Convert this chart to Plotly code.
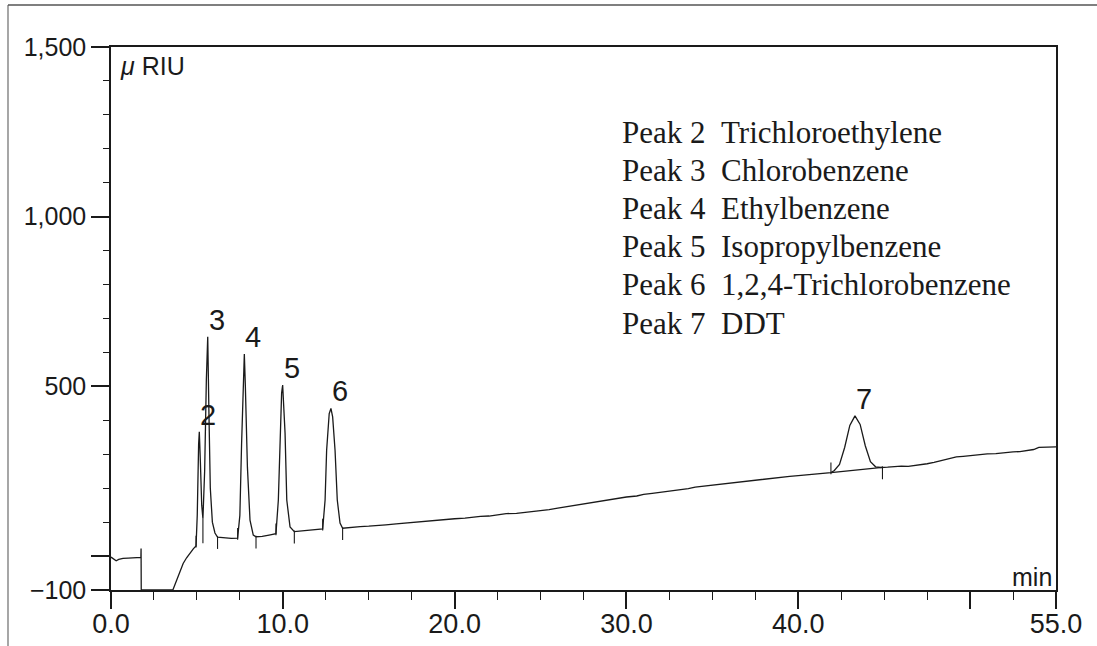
import numpy as np
import plotly.graph_objects as go

# ---------------- data ----------------
time_min = [
    0.0, 0.15, 0.3, 0.45, 0.7, 1.0, 1.3, 1.6, 1.74, 1.75, 1.76, 3.6, 3.8, 4.0, 4.2, 4.4, 4.6, 4.8, 4.95,
    5.02, 5.1, 5.14, 5.2, 5.28, 5.35, 5.45, 5.55, 5.63, 5.7, 5.78, 5.9, 6.05, 6.2,
    6.6, 7.0, 7.37,
    7.5, 7.6, 7.7, 7.76, 7.82, 7.94, 8.09, 8.28, 8.44,
    8.8, 9.2, 9.6,
    9.74, 9.84, 9.93, 9.99, 10.06, 10.13, 10.23, 10.42, 10.67,
    11.0, 11.5, 12.0, 12.32,
    12.46, 12.55, 12.7, 12.8, 12.9, 13.04, 13.17, 13.33, 13.48,
    14.0, 14.5, 15.0, 15.5, 16.0, 16.6, 17.0, 17.5, 18.0, 18.6, 19.0, 19.5, 20.0, 20.6, 21.0, 21.5,
    22.0, 22.5, 23.0, 23.6, 24.0, 24.5, 25.0, 25.5, 26.0, 26.6, 27.0, 27.5,
    28.0, 28.5, 29.0, 29.5, 30.0, 30.6, 31.0, 31.5, 32.0, 32.5, 33.0, 33.6, 34.0, 34.5, 35.0, 35.5,
    36.0, 36.6, 37.0, 37.5, 38.0, 38.5, 39.0, 39.5, 40.0, 40.5, 41.0, 41.5, 41.9,
    42.1, 42.4, 42.7, 43.0, 43.3, 43.6, 43.9, 44.2, 44.5, 44.8,
    45.2, 45.5, 46.0, 46.4, 46.7, 47.1, 47.5, 47.9, 48.2, 48.7, 49.2, 49.6, 50.0, 50.3, 50.6,
    51.0, 51.5, 52.0, 52.5, 52.9, 53.2, 53.7, 54.0, 54.5, 55.0,
]
signal_uRIU = [
    -3, -8, -14, -10, -7, -6, -5, -4, -4, 22, -100, -100, -72, -45, -22, -5, 10, 22, 30,
    120, 330, 366, 280, 150, 110, 250, 520, 646, 420, 200, 100, 68, 56,
    53, 52, 53,
    120, 330, 540, 595, 500, 262, 106, 62, 57,
    58, 62, 66,
    165, 363, 480, 504, 450, 363, 165, 86, 72,
    74, 76, 79, 80,
    165, 312, 420, 435, 410, 312, 165, 97, 82,
    85, 87, 88, 91, 92, 95, 97, 98, 101, 104, 106, 108, 110, 112, 115, 117,
    118, 122, 125, 126, 128, 132, 134, 137, 141, 146, 149, 153,
    158, 162, 166, 169, 174, 177, 182, 185, 188, 192, 195, 199, 203, 206, 209, 212,
    215, 219, 221, 224, 227, 229, 232, 235, 237, 239, 241, 243, 246,
    252, 270, 320, 385, 413, 388, 325, 278, 263, 261,
    262, 263, 265, 264, 266, 268, 272, 276, 280, 285, 292, 294, 296, 299, 300,
    301, 302, 305, 307, 308, 310, 314, 320, 321, 322,
]

peak_numbers = ["2", "3", "4", "5", "6", "7"]
peak_apex_time = [5.14, 5.63, 7.76, 9.99, 12.8, 43.3]
peak_apex_signal = [366, 646, 595, 504, 435, 413]
peak_names = ["Trichloroethylene", "Chlorobenzene", "Ethylbenzene",
              "Isopropylbenzene", "1,2,4-Trichlorobenzene", "DDT"]

peak_start_marks = [4.95, 7.37, 9.6, 12.32, 41.9]
peak_end_marks = [6.2, 8.44, 10.67, 13.48, 44.9]
drop_line_time = [5.35]

x_tick_vals = [0, 10, 20, 30, 40, 50, 55]
x_tick_text = ["0.0", "10.0", "20.0", "30.0", "40.0", "", "55.0"]
y_tick_vals = [-100, 0, 500, 1000, 1500]
y_tick_text = ["\u2212100", "", "500", "1,000", "1,500"]

# ---------------- figure ----------------
INK = "#1a1a1a"
fig = go.Figure()

fig.add_trace(go.Scatter(x=time_min, y=signal_uRIU, mode="lines",
                         line=dict(color=INK, width=1.3), hoverinfo="skip"))

# integration marks (computed from the trace baseline)
mx, my = [], []
for t in peak_start_marks:
    b = float(np.interp(t, time_min, signal_uRIU))
    mx += [t, t, None]
    my += [b - 5, b + 30, None]
for t in peak_end_marks:
    b = float(np.interp(t, time_min, signal_uRIU))
    mx += [t, t, None]
    my += [b + 3, b - 35, None]
for t in drop_line_time:
    b = float(np.interp(t, time_min, signal_uRIU))
    mx += [t, t, None]
    my += [b, 38, None]
# baseline under peak 7
b0 = float(np.interp(peak_start_marks[-1], time_min, signal_uRIU))
b1 = float(np.interp(peak_end_marks[-1], time_min, signal_uRIU))
mx += [peak_start_marks[-1], peak_end_marks[-1], None]
my += [b0, b1, None]
fig.add_trace(go.Scatter(x=mx, y=my, mode="lines",
                         line=dict(color=INK, width=1.1), hoverinfo="skip"))

# peak number labels
for n, t, v in zip(peak_numbers, peak_apex_time, peak_apex_signal):
    fig.add_annotation(x=t, y=v, text=n, showarrow=False, xanchor="center", yanchor="middle",
                       xshift=9, yshift=17,
                       font=dict(family="Liberation Sans, Arial, sans-serif", size=29, color=INK))

# legend text block
L, T, B, H = 111, 47, 590, 543
def py(p):
    return (B - p) / H
def px(p):
    return (p - L) / 945

for i, (n, name) in enumerate(zip(peak_numbers, peak_names)):
    fig.add_annotation(xref="paper", yref="paper", x=px(620), y=py(132 + 38.2 * i),
                       text=f"Peak {n}\u00a0\u00a0{name}", showarrow=False,
                       xanchor="left", yanchor="middle",
                       font=dict(family="Liberation Serif, Times New Roman, serif", size=31, color=INK))

fig.add_annotation(xref="paper", yref="paper", x=px(118), y=py(66), text="<i>\u03bc</i> RIU",
                   showarrow=False, xanchor="left", yanchor="middle",
                   font=dict(family="Liberation Sans, Arial, sans-serif", size=25, color=INK))
fig.add_annotation(xref="paper", yref="paper", x=px(1054), y=py(577), text="min",
                   showarrow=False, xanchor="right", yanchor="middle",
                   font=dict(family="Liberation Sans, Arial, sans-serif", size=25, color=INK))

# scanned page border (left and top)
fig.add_shape(type="line", xref="paper", yref="paper", x0=px(8), x1=px(8), y0=py(5), y1=py(646),
              line=dict(color="#777", width=1.3))
fig.add_shape(type="line", xref="paper", yref="paper", x0=px(8), x1=px(1097), y0=py(5), y1=py(5),
              line=dict(color="#555", width=1.3))

fig.update_xaxes(range=[0, 55], tickmode="array", tickvals=x_tick_vals, ticktext=x_tick_text,
                 ticks="outside", ticklen=17, tickwidth=1.5, tickcolor=INK,
                 minor=dict(dtick=2.5, tick0=0, ticks="outside", ticklen=8, tickwidth=1.3, tickcolor=INK),
                 showline=True, linecolor=INK, linewidth=1.5, mirror=True, automargin=False,
                 ticklabelstandoff=-8,
                 showgrid=False, zeroline=False,
                 tickfont=dict(family="Liberation Sans, Arial, sans-serif", size=27, color=INK))
fig.update_yaxes(range=[-100, 1500], tickmode="array", tickvals=y_tick_vals, ticktext=y_tick_text,
                 ticks="outside", ticklen=18, tickwidth=1.5, tickcolor=INK,
                 minor=dict(dtick=100, tick0=0, ticks="outside", ticklen=6, tickwidth=1.2, tickcolor=INK),
                 showline=True, linecolor=INK, linewidth=1.5, mirror=True, automargin=False,
                 showgrid=False, zeroline=False,
                 tickfont=dict(family="Liberation Sans, Arial, sans-serif", size=25, color=INK))

fig.update_layout(width=1097, height=646, margin=dict(l=111, r=41, t=47, b=56),
                  plot_bgcolor="white", paper_bgcolor="white", showlegend=False)

fig.write_html("out.html")
